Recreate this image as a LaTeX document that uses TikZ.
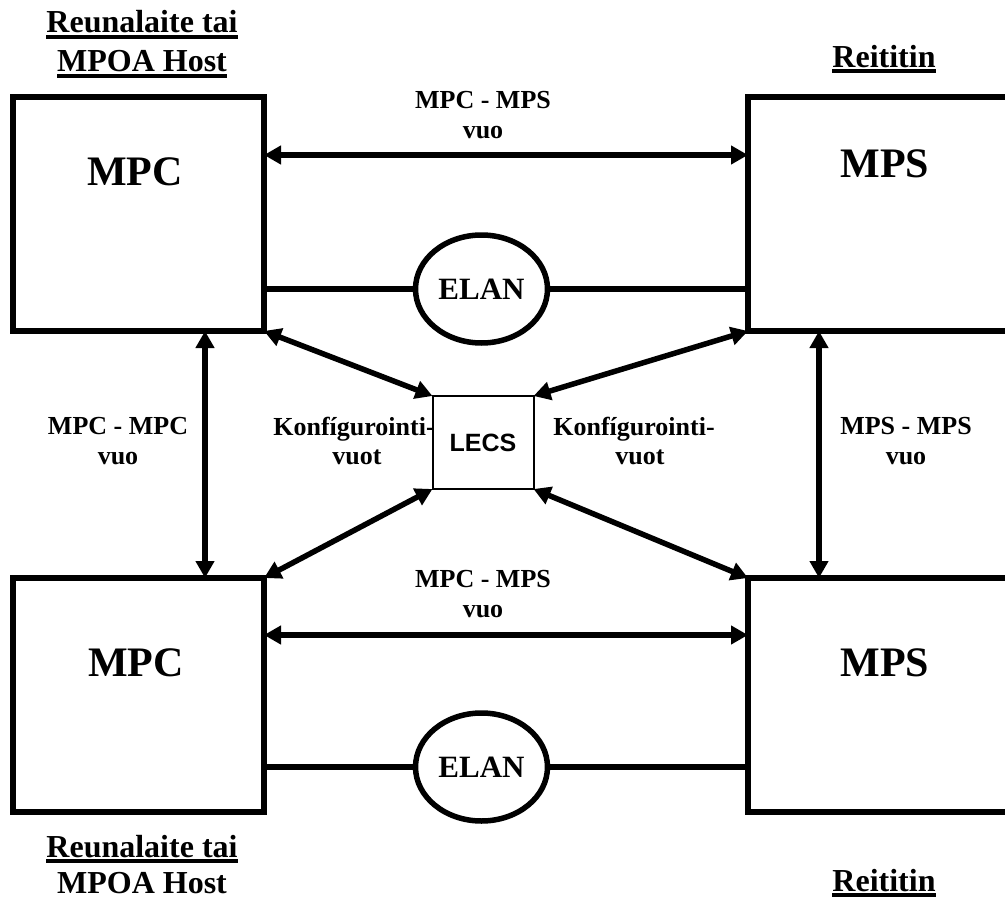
\documentclass[tikz,border=0pt]{standalone}
\usepackage{fontspec}
\setmainfont{Liberation Serif}
\newfontfamily\lecsfont{Liberation Sans}
\usetikzlibrary{arrows.meta,shapes.geometric}
% heading text with a heavy underline
\newcommand\ulbox[1]{\vtop{\hbox{#1}\kern2pt\hrule height 3.5pt}}
\begin{document}
\begin{tikzpicture}[x=1pt,y=-1pt,
  unit/.style={draw, line width=5.5pt, rectangle, inner sep=0pt, outer sep=0pt},
  lan/.style={draw, line width=5.5pt, ellipse, inner sep=0pt, outer sep=0pt,
    minimum width=132pt, minimum height=108pt,
    font=\fontsize{31}{31}\selectfont\bfseries},
  big/.style={font=\fontsize{42}{42}\selectfont\bfseries, anchor=base, inner sep=0pt},
  head/.style={font=\fontsize{32}{32}\selectfont\bfseries, anchor=base, inner sep=0pt},
  lbl/.style={font=\fontsize{26}{26}\selectfont\bfseries, anchor=base, inner sep=0pt},
  flow/.style={line width=5.5pt, {Triangle[length=17pt,width=18pt]}-{Triangle[length=17pt,width=18pt]}},
  link/.style={line width=5.5pt}]
\clip (0,0) rectangle (1005,899);
\fill[white] (0,0) rectangle (1005,899);

% the four units
\node[unit, minimum width=251pt, minimum height=234pt] (tl) at (138.5,214) {};
\node[unit, minimum width=282pt, minimum height=234pt] (tr) at (889,214) {};
\node[unit, minimum width=251pt, minimum height=234pt] (bl) at (138.5,695) {};
\node[unit, minimum width=282pt, minimum height=234pt] (br) at (889,695) {};

\node[big] (mpc1) at (135,185) {MPC};
\node[big] (mps1) at (885,177) {MPS};
\node[big] (mpc2) at (136,676) {MPC};
\node[big] (mps2) at (885,676) {MPS};

% configuration server
\node[draw, line width=2pt, rectangle, inner sep=0pt, outer sep=0pt,
  minimum width=101pt, minimum height=93pt,
  font=\lecsfont\fontsize{25}{25}\selectfont\bfseries] (lecs) at (483,442.5) {LECS};

% emulated LANs
\node[lan] (elan1) at (481.5,289) {ELAN};
\node[lan] (elan2) at (481.5,767) {ELAN};
\draw[link] (tl.east |- elan1.west) -- (elan1.west);
\draw[link] (elan1.east) -- (tr.west |- elan1.east);
\draw[link] (bl.east |- elan2.west) -- (elan2.west);
\draw[link] (elan2.east) -- (br.west |- elan2.east);

% flows
\coordinate (ht) at (0,155);
\coordinate (hb) at (0,635);
\coordinate (vl) at (205,0);
\coordinate (vr) at (819,0);
\draw[flow] (tl.east |- ht) -- (tr.west |- ht);
\draw[flow] (bl.east |- hb) -- (br.west |- hb);
\draw[flow] (tl.south -| vl) -- (bl.north -| vl);
\draw[flow] (tr.south -| vr) -- (br.north -| vr);
\draw[flow] (tl.south east) -- (lecs.north west);
\draw[flow] (tr.south west) -- (lecs.north east);
\draw[flow] (bl.north east) -- (lecs.south west);
\draw[flow] (br.north west) -- (lecs.south east);

% flow labels
\node[lbl] (t1a) at (483,109) {MPC - MPS};
\node[lbl] (t1b) at (483,139) {vuo};
\node[lbl] (t2a) at (483,587) {MPC - MPS};
\node[lbl] (t2b) at (483,617) {vuo};
\node[lbl] (t3a) at (118,434) {MPC - MPC};
\node[lbl] (t3b) at (118,464) {vuo};
\node[lbl] (t4a) at (906,434) {MPS - MPS};
\node[lbl] (t4b) at (906,464) {vuo};
\node[lbl] (k1a) at (354,435) {Konfígurointi-};
\node[lbl] (k1b) at (357,464) {vuot};
\node[lbl] (k2a) at (634,435) {Konfígurointi-};
\node[lbl] (k2b) at (640,464) {vuot};

% headings
\node[head] (h1) at (142,33) {\ulbox{Reunalaite tai}};
\node[head] (h2) at (142,72) {\ulbox{MPOA Host}};
\node[head] (h3) at (884,67) {\ulbox{Reititin}};
\node[head] (h4) at (142,857) {\ulbox{Reunalaite tai}};
\node[head] (h5) at (142,893) {MPOA Host};
\node[head] (h6) at (884,891) {\ulbox{Reititin}};
\end{tikzpicture}
\end{document}
